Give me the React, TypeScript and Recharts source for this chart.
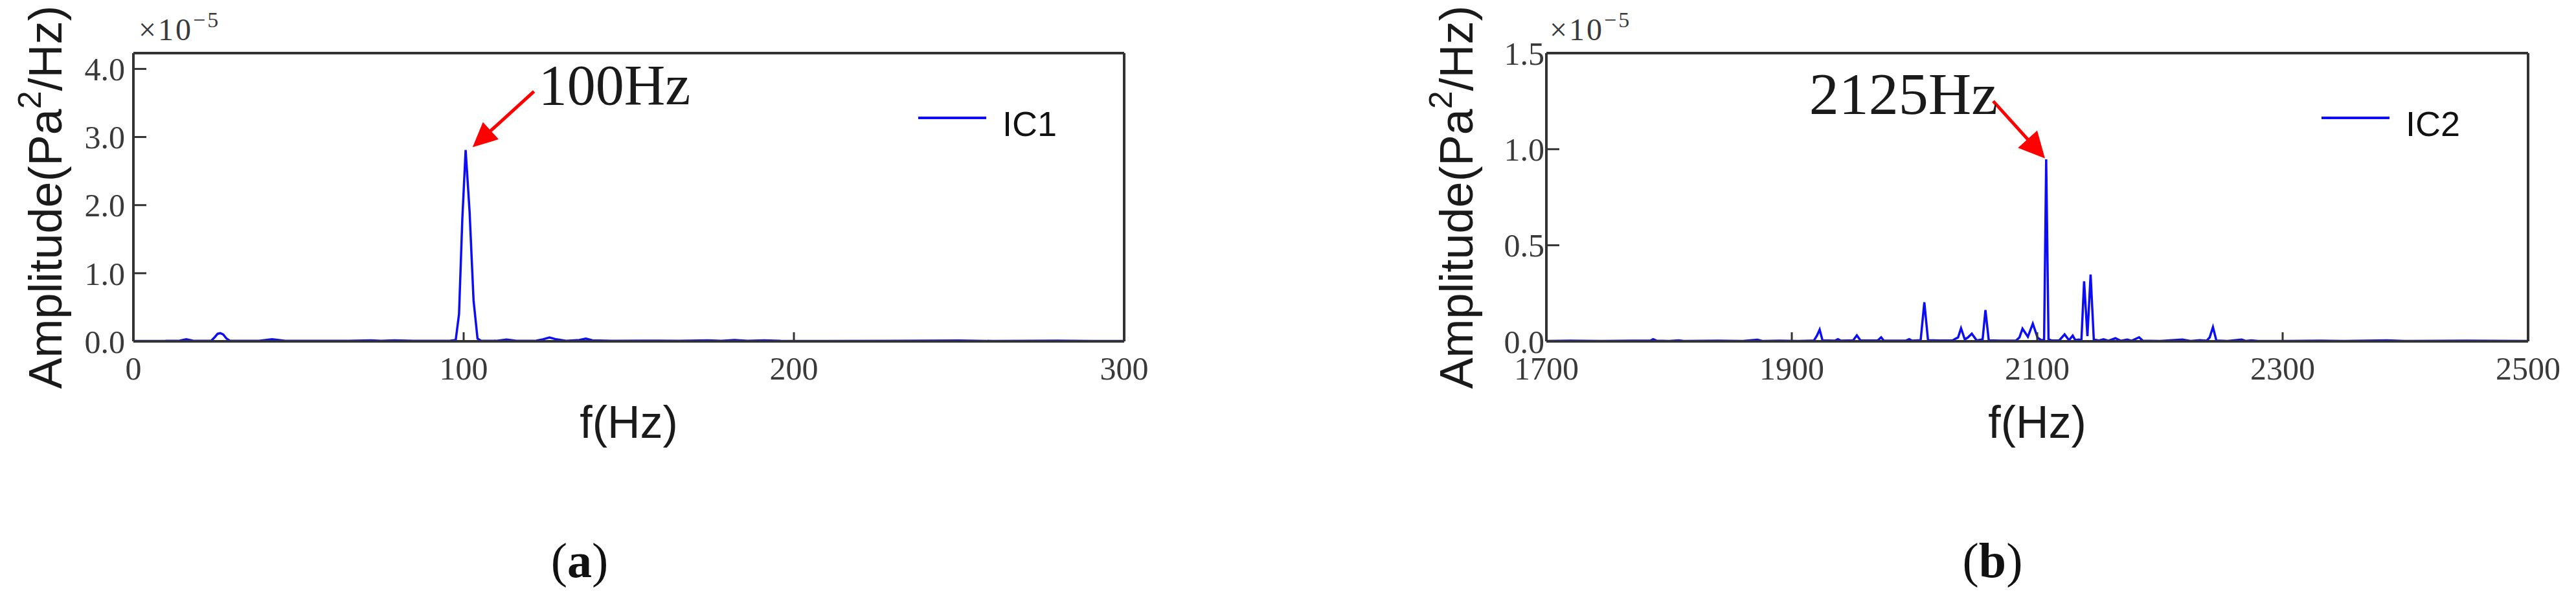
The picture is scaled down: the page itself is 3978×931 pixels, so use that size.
import React from 'react';
import { LineChart, Line, XAxis, YAxis, ReferenceLine, Legend, Label } from 'recharts';

// Panel (a): IC1 spectrum, amplitude in units of 1e-5 Pa^2/Hz
const freqA = [0, 5, 10, 14, 16, 18, 22, 23.6, 24.6, 25.5, 26.3, 27.2, 28.2, 29.2, 38, 42, 46, 55, 65, 72, 75, 79, 85, 92, 96, 97.6, 98.6, 99.6, 100.6, 101.8, 103, 104.2, 105.2, 110, 113, 116, 122, 124, 126, 128, 131, 135, 137, 139, 145, 155, 165, 174, 178, 182, 186, 191, 196, 210, 230, 250, 260, 280, 290, 300];
const ampA = [0.005, 0.004, 0.006, 0.01, 0.03, 0.01, 0.008, 0.01, 0.06, 0.11, 0.12, 0.1, 0.04, 0.008, 0.008, 0.03, 0.008, 0.006, 0.008, 0.015, 0.006, 0.015, 0.006, 0.008, 0.01, 0.02, 0.4, 1.8, 2.81, 1.9, 0.6, 0.04, 0.01, 0.008, 0.025, 0.008, 0.01, 0.03, 0.057, 0.03, 0.008, 0.02, 0.04, 0.015, 0.006, 0.01, 0.008, 0.015, 0.006, 0.02, 0.008, 0.015, 0.006, 0.005, 0.008, 0.012, 0.005, 0.01, 0.005, 0.005];

// Panel (b): IC2 spectrum
const freqB = [1700, 1720, 1745, 1770, 1785, 1787, 1790, 1800, 1808, 1812, 1840, 1860, 1872, 1876, 1890, 1905, 1918, 1920.5, 1922.7, 1925, 1935, 1937.6, 1940, 1950, 1953, 1956, 1970, 1972.8, 1975, 1993, 1995.7, 1998, 2005, 2008, 2011, 2020, 2031, 2033.5, 2035.5, 2037.9, 2041, 2043.5, 2046.7, 2050.7, 2055.5, 2057.8, 2060.5, 2070, 2082.7, 2085.5, 2088, 2092.4, 2096.4, 2100.3, 2103.5, 2105.6, 2107.3, 2109.2, 2112, 2118, 2122.3, 2125.9, 2128.9, 2131, 2133.8, 2136, 2138.2, 2140.9, 2143.5, 2146.1, 2150, 2154, 2158, 2163.7, 2168, 2173.4, 2177, 2183, 2186, 2200, 2218.2, 2225, 2232.4, 2238, 2240.5, 2243.2, 2246, 2255, 2266.6, 2270, 2274.5, 2280, 2300, 2330, 2350, 2385, 2400, 2450, 2500];
const ampB = [0.002, 0.003, 0.002, 0.003, 0.004, 0.011, 0.003, 0.002, 0.005, 0.002, 0.003, 0.002, 0.008, 0.002, 0.003, 0.002, 0.004, 0.03, 0.061, 0.005, 0.003, 0.011, 0.003, 0.005, 0.031, 0.004, 0.004, 0.021, 0.003, 0.004, 0.011, 0.003, 0.006, 0.203, 0.006, 0.004, 0.004, 0.014, 0.02, 0.068, 0.01, 0.02, 0.04, 0.004, 0.01, 0.163, 0.005, 0.003, 0.004, 0.02, 0.066, 0.024, 0.092, 0.019, 0.005, 0.01, 0.947, 0.01, 0.004, 0.005, 0.036, 0.006, 0.03, 0.006, 0.009, 0.005, 0.312, 0.027, 0.348, 0.009, 0.004, 0.011, 0.003, 0.016, 0.003, 0.009, 0.003, 0.021, 0.003, 0.002, 0.009, 0.002, 0.006, 0.003, 0.02, 0.074, 0.004, 0.002, 0.009, 0.002, 0.005, 0.002, 0.002, 0.003, 0.002, 0.005, 0.002, 0.003, 0.002];

const ticksXA = [0, 100, 200, 300];
const ticksYA = [0, 1, 2, 3, 4];
const ticksXB = [1700, 1900, 2100, 2300, 2500];
const ticksYB = [0, 0.5, 1, 1.5];

const annotA = { text: '100Hz', from: { x: 121.3, y: 3.67 }, to: { x: 102.7, y: 2.85 } };
const annotB = { text: '2125Hz', from: { x: 2064.1, y: 1.25 }, to: { x: 2106.3, y: 0.952 } };

const BLUE = '#0d0df5';
const FRAME = '#333333';
const SERIF = '"Liberation Serif", "Times New Roman", serif';
const SANS = '"Liberation Sans", Arial, sans-serif';

const makeArrow = (text: string, anchor: 'start' | 'end', hl: number, hw: number) => (props: any) => {
  const { x1, y1, x2, y2 } = props;
  const dx = x2 - x1;
  const dy = y2 - y1;
  const len = Math.hypot(dx, dy) || 1;
  const ux = dx / len;
  const uy = dy / len;
  const bx = x2 - ux * hl;
  const by = y2 - uy * hl;
  const px = -uy;
  const py = ux;
  return (
    <g>
      <line x1={x1} y1={y1} x2={bx + ux * 4} y2={by + uy * 4} stroke="#ff0000" strokeWidth={5} />
      <polygon points={`${x2},${y2} ${bx + px * hw},${by + py * hw} ${bx - px * hw},${by - py * hw}`} fill="#ff0000" />
      <text x={x1 + 7} y={y1 + 20} textAnchor={anchor} fontFamily={SERIF} fontSize={anchor === 'start' ? 88 : 92} fill="#1a1a1a">
        {text}
      </text>
    </g>
  );
};

const YLabel = (cx: number) => (props: any) => {
  const vb = props.viewBox || {};
  const cy = vb.y + vb.height / 2;
  const x = vb.x + cx;
  return (
    <text x={x} y={cy} transform={`rotate(-90, ${x}, ${cy})`} textAnchor="middle" dominantBaseline="central" fontFamily={SANS} fontSize={72} fill="#1a1a1a">
      Amplitude(Pa<tspan dy={-24} fontSize={50}>2</tspan><tspan dy={24}>/Hz)</tspan>
    </text>
  );
};

const LegendBox = (name: string) => () => (
  <svg width={260} height={84} style={{ display: 'block' }}>
    <line x1={0} x2={105} y1={42} y2={42} stroke={BLUE} strokeWidth={4} />
    <text x={130} y={70} fontFamily={SANS} fontSize={54} fill="#111">{name}</text>
  </svg>
);

type PanelProps = {
  left: number;
  width: number;
  rightMargin: number;
  freq: number[];
  amp: number[];
  xDomain: [number, number];
  yDomain: [number, number];
  xTicks: number[];
  yTicks: number[];
  yTickMargin: number;
  yLabelX: number;
  legendLeft: number;
  name: string;
  annot: { text: string; from: { x: number; y: number }; to: { x: number; y: number } };
  anchor: 'start' | 'end';
  hl: number;
  hw: number;
};

const Panel = (p: PanelProps) => {
  const data = p.freq.map((f, i) => ({ f, v: p.amp[i] }));
  const tickStyle = { fontFamily: SERIF, fontSize: 50, fill: '#3a3a3a' };
  const axisLine = { stroke: FRAME, strokeWidth: 4 };
  const tickLine = { stroke: FRAME, strokeWidth: 3 };
  return (
    <div style={{ position: 'absolute', left: p.left, top: 0 }}>
      <LineChart width={p.width} height={931} data={data} margin={{ top: 52, right: p.rightMargin, bottom: 160, left: 0 }}>
        <XAxis dataKey="f" type="number" domain={p.xDomain} ticks={p.xTicks} interval={0} allowDataOverflow
          tick={tickStyle} tickSize={-14} tickMargin={37} axisLine={axisLine} tickLine={tickLine} height={160}>
          <Label value="f(Hz)" position="insideBottom" offset={11} style={{ fontFamily: SANS, fontSize: 70, fill: '#1a1a1a' }} />
        </XAxis>
        <XAxis xAxisId="top" orientation="top" dataKey="f" type="number" domain={p.xDomain} ticks={p.xTicks} interval={0} allowDataOverflow
          tick={false} tickSize={-14} axisLine={axisLine} tickLine={tickLine} height={30} />
        <YAxis type="number" domain={p.yDomain} ticks={p.yTicks} interval={0} allowDataOverflow
          tickFormatter={(v: number) => v.toFixed(1)} tick={tickStyle} tickSize={-20} tickMargin={p.yTickMargin}
          axisLine={axisLine} tickLine={tickLine} width={206}>
          <Label content={YLabel(p.yLabelX)} />
        </YAxis>
        <YAxis yAxisId="right" orientation="right" type="number" domain={p.yDomain} ticks={p.yTicks} interval={0} allowDataOverflow
          tick={false} tickSize={-20} axisLine={axisLine} tickLine={tickLine} width={30} />
        <Line dataKey="v" type="linear" stroke={BLUE} strokeWidth={3.5} dot={false} isAnimationActive={false} name={p.name} />
        <ReferenceLine segment={[p.annot.from, p.annot.to]} ifOverflow="visible" shape={makeArrow(p.annot.text, p.anchor, p.hl, p.hw)} />
        <Legend content={LegendBox(p.name)} wrapperStyle={{ position: 'absolute', left: p.legendLeft, top: 140, width: 260, height: 84, bottom: 'auto' }} />
      </LineChart>
    </div>
  );
};

export default function App() {
  return (
    <div style={{ position: 'absolute', left: 0, top: 0, width: 3978, height: 931, background: '#fff', overflow: 'hidden' }}>
      <Panel left={0} width={1800} rightMargin={34} freq={freqA} amp={ampA} xDomain={[0, 300]} yDomain={[0, 4.232]}
        xTicks={ticksXA} yTicks={ticksYA} yTickMargin={33} yLabelX={70} legendLeft={1418} name="IC1" annot={annotA} anchor="start" hl={38} hw={18} />
      <Panel left={2182} width={1796} rightMargin={44} freq={freqB} amp={ampB} xDomain={[1700, 2500]} yDomain={[0, 1.5]}
        xTicks={ticksXB} yTicks={ticksYB} yTickMargin={23} yLabelX={67} legendLeft={1403} name="IC2" annot={annotB} anchor="end" hl={40} hw={20} />
      <svg width={3978} height={931} style={{ position: 'absolute', left: 0, top: 0, pointerEvents: 'none' }}>
        <text x={214} y={62} fontFamily={SERIF} fontSize={48} letterSpacing={3} fill="#3a3a3a">×10<tspan dy={-20} fontSize={34}>−5</tspan></text>
        <text x={2393} y={62} fontFamily={SERIF} fontSize={48} letterSpacing={3} fill="#3a3a3a">×10<tspan dy={-20} fontSize={34}>−5</tspan></text>
        <text x={895} y={891} textAnchor="middle" fontFamily={SERIF} fontSize={76} fill="#111">(<tspan fontWeight="bold">a</tspan>)</text>
        <text x={3077} y={891} textAnchor="middle" fontFamily={SERIF} fontSize={76} fill="#111">(<tspan fontWeight="bold">b</tspan>)</text>
      </svg>
    </div>
  );
}
